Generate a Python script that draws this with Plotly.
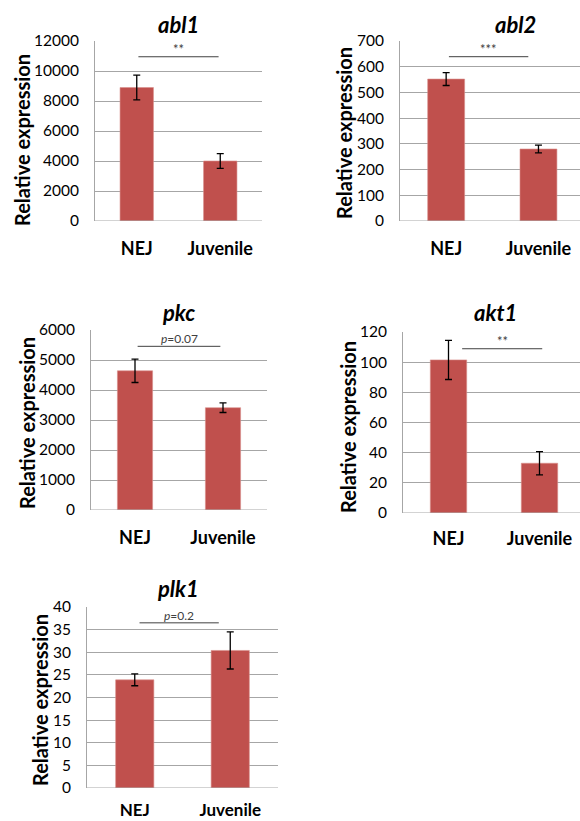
import plotly.graph_objects as go

# ---- data ----
categories = ["NEJ", "Juvenile"]

genes = ["abl1", "abl2", "pkc", "akt1", "plk1"]

abl1_mean = [8900, 4000]
abl1_err = [820, 490]
abl2_mean = [552, 280]
abl2_err = [25, 15]
pkc_mean = [4640, 3410]
pkc_err = [390, 160]
akt1_mean = [101.5, 33]
akt1_err = [13, 7.7]
plk1_mean = [23.9, 30.4]
plk1_err = [1.3, 4.1]

y_max = [12000, 700, 6000, 120, 40]
y_dtick = [2000, 100, 1000, 20, 5]

sig_labels = ["**", "***", "<i>p</i>=0.07", "**", "<i>p</i>=0.2"]
sig_level = [10950, 639, 5456, 108.9, 36.5]
sig_from = [0.02, 0.03, 0.03, 0.15, 0.05]
sig_to = [0.98, 0.89, 0.97, 1.03, 0.88]

means = [abl1_mean, abl2_mean, pkc_mean, akt1_mean, plk1_mean]
errs = [abl1_err, abl2_err, pkc_err, akt1_err, plk1_err]

# ---- layout geometry (pixels) ----
W, H = 580, 821
panels = [
    dict(x=(95, 262), y=(41, 221), xr=(-0.5, 1.5), title=(178, 25), ytitle=(22, 140), so=15, fs=18),
    dict(x=(400, 580), y=(41, 221), xr=(-0.5, 1.45), title=(515, 25), ytitle=(344, 133), so=15, fs=18),
    dict(x=(91, 267), y=(330, 510), xr=(-0.5, 1.5), title=(178, 313), ytitle=(27, 423), so=15, fs=18),
    dict(x=(403, 580), y=(332, 513), xr=(-0.5, 1.445), title=(495, 313), ytitle=(348, 427), so=13, fs=18),
    dict(x=(87, 278), y=(607, 788), xr=(-0.5, 1.5), title=(178, 588), ytitle=(40, 700), so=10, fs=17),
]

FONT = "Lato, Calibri, Carlito, sans-serif"
BAR = "#C0504D"
GRID = "#A6A6A6"

fig = go.Figure()
annotations = []
shapes = []
layout = {}

for i, (g, m, e, p) in enumerate(zip(genes, means, errs, panels)):
    n = i + 1
    xa = "x" if n == 1 else f"x{n}"
    ya = "y" if n == 1 else f"y{n}"
    fig.add_trace(go.Bar(
        x=categories, y=m, xaxis=xa, yaxis=ya, width=0.4,
        marker=dict(color=BAR, line=dict(color="#D98E8C", width=0.6)),
        error_y=dict(type="data", array=e, visible=True, color="black",
                     thickness=1.3, width=3.5),
        showlegend=False, hoverinfo="skip",
    ))
    layout[f"xaxis{n}" if n > 1 else "xaxis"] = dict(
        domain=[p["x"][0] / W, p["x"][1] / W], anchor=ya, range=list(p["xr"]),
        showgrid=False, showline=False, zeroline=False, ticks="",
        ticklabelstandoff=p["so"], type="category", automargin=False,
        tickfont=dict(family=FONT, size=p["fs"], color="black", weight="bold"),
        fixedrange=True,
    )
    layout[f"yaxis{n}" if n > 1 else "yaxis"] = dict(
        domain=[1 - p["y"][1] / H, 1 - p["y"][0] / H], anchor=xa,
        range=[0, y_max[i]], dtick=y_dtick[i], tick0=0, tickformat="d",
        showgrid=True, gridcolor=GRID, gridwidth=1,
        showline=True, linecolor=GRID, linewidth=1, automargin=False,
        zeroline=False, ticks="", ticklabelstandoff=12,
        tickfont=dict(family=FONT, size=15.5, color="black"),
        fixedrange=True,
    )
    # bottom axis line (0 gridline)
    shapes.append(dict(type="line", xref=f"{xa} domain", yref=ya,
                       x0=0, x1=1, y0=0, y1=0, line=dict(color=GRID, width=1)))
    # significance line
    shapes.append(dict(type="line", xref=xa, yref=ya,
                       x0=sig_from[i], x1=sig_to[i], y0=sig_level[i], y1=sig_level[i],
                       line=dict(color="#404040", width=1)))
    annotations.append(dict(
        xref=xa, yref=ya, x=(sig_from[i] + sig_to[i]) / 2, y=sig_level[i],
        text=sig_labels[i], showarrow=False, yanchor="bottom", yshift=-2,
        font=dict(family=FONT, size=13 if "*" in sig_labels[i] else 12, color="#404040"),
    ))
    # panel title
    annotations.append(dict(
        xref="paper", yref="paper", x=p["title"][0] / W, y=1 - p["title"][1] / H,
        text=f"<b><i>{g}</i></b>", showarrow=False, xanchor="center", yanchor="middle",
        font=dict(family=FONT, size=22, color="black"),
    ))
    # y-axis title
    annotations.append(dict(
        xref="paper", yref="paper", x=p["ytitle"][0] / W, y=1 - p["ytitle"][1] / H,
        text="<b>Relative expression</b>", showarrow=False, textangle=-90,
        xanchor="center", yanchor="middle",
        font=dict(family=FONT, size=20, color="black"),
    ))

fig.update_layout(
    width=W, height=H, margin=dict(l=0, r=0, t=0, b=0, autoexpand=False),
    paper_bgcolor="white", plot_bgcolor="white",
    annotations=annotations, shapes=shapes, **layout,
)

fig.write_html(
    "out.html",
    config={"displayModeBar": False, "staticPlot": True},
    post_script="document.body.style.margin='0px';document.body.style.overflow='hidden';",
)
